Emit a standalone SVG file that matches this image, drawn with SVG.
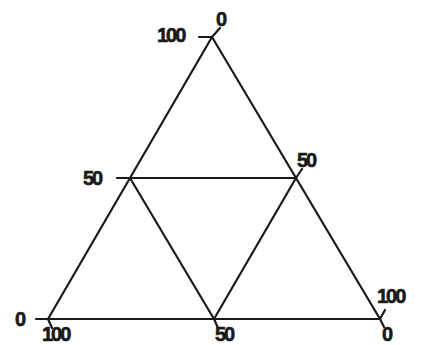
<svg xmlns="http://www.w3.org/2000/svg" width="424" height="345" viewBox="0 0 424 345">
  <style>
    .ln { stroke: #1a1a1a; stroke-width: 2.2; fill: none; stroke-linecap: round; stroke-linejoin: round; }
    .lb { font-family: "Liberation Sans", Arial, sans-serif; font-weight: bold; font-size: 20px; fill: #1a1a1a; stroke: #1a1a1a; stroke-width: 0.6; letter-spacing: -2px; }
  </style>
  <rect width="424" height="345" fill="#ffffff"/>
  <g id="triangle">
    <polygon class="ln" points="212,37 48,319 380,319"/>
  </g>
  <g id="connectors">
    <polyline class="ln" points="130,178 296,178 214,319 130,178"/>
  </g>
  <g id="ticks">
    <path class="ln" d="M199,37 L212,37 M212,37 L220,28"/>
    <path class="ln" d="M117,178 L130,178"/>
    <path class="ln" d="M296,178 L302,169"/>
    <path class="ln" d="M36,319 L48,319 M48,319 L52,328"/>
    <path class="ln" d="M214,319 L218,328"/>
    <path class="ln" d="M380,319 L385,310 M380,319 L384,327"/>
  </g>
  <g id="labels">
    <text class="lb" x="157" y="42">100</text>
    <text class="lb" x="216" y="26">0</text>
    <text class="lb" x="83" y="185">50</text>
    <text class="lb" x="297" y="167">50</text>
    <text class="lb" x="15" y="326">0</text>
    <text class="lb" x="42" y="341">100</text>
    <text class="lb" x="215" y="341">50</text>
    <text class="lb" x="377" y="303">100</text>
    <text class="lb" x="382" y="341">0</text>
  </g>
</svg>
